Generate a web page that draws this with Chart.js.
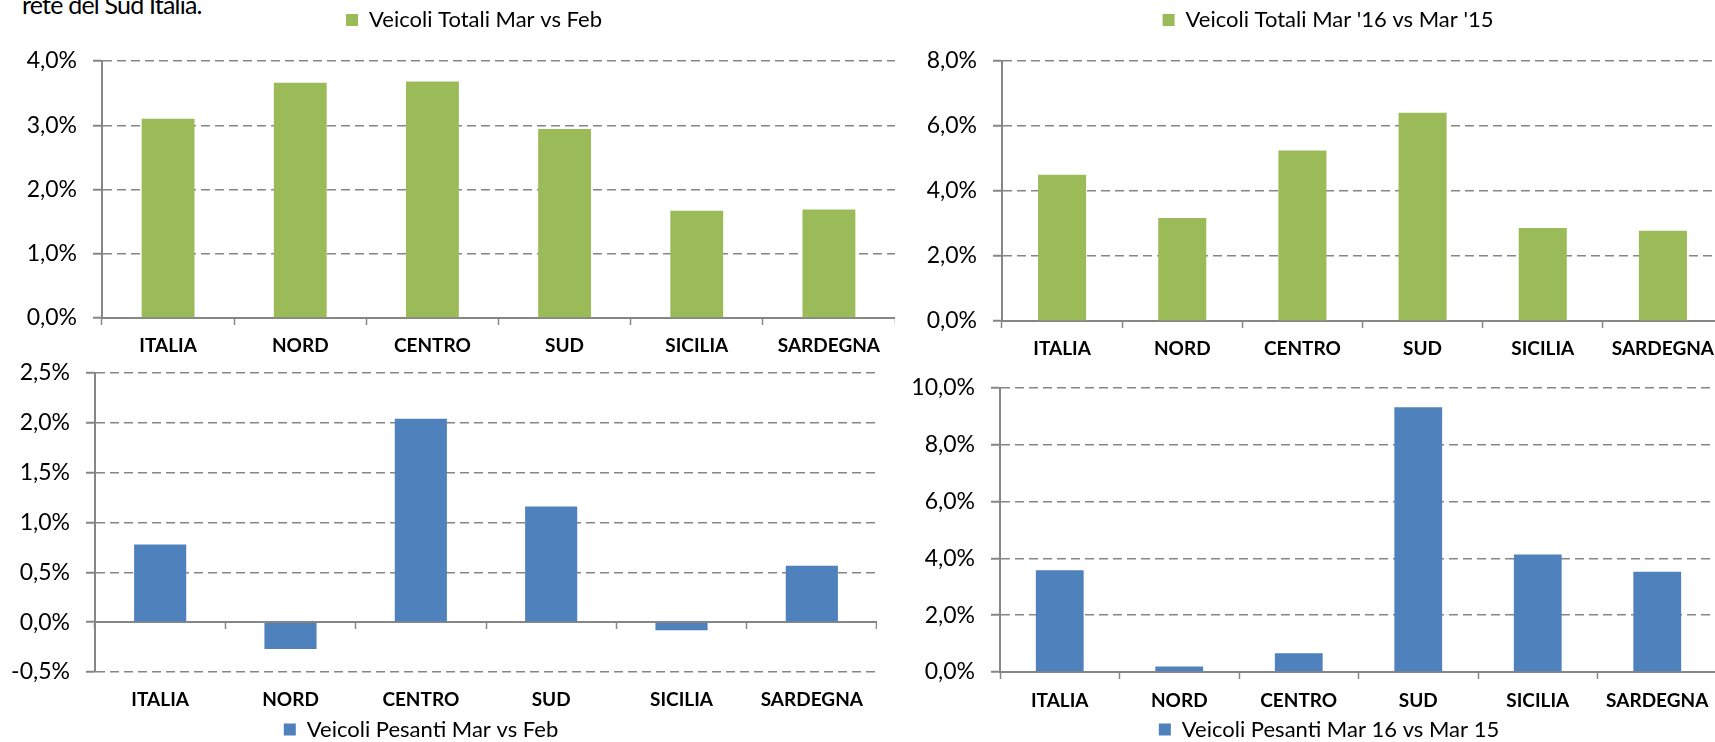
<!DOCTYPE html>
<html><head><meta charset="utf-8">
<script src="https://cdn.jsdelivr.net/npm/chart.js@4.4.1/dist/chart.umd.min.js"></script>
<style>
html,body{margin:0;padding:0;background:#fff;overflow:hidden;}
#page{position:relative;width:1715px;height:742px;overflow:hidden;background:#fff;}
canvas{position:absolute;}
#intro{position:absolute;left:22px;top:-8px;font:25px/25px Lato, sans-serif;letter-spacing:-0.8px;color:#000;white-space:nowrap;}
</style></head><body><div id="page">
<div id="intro">rete del Sud Italia.</div>
<canvas id="c1" width="895" height="368" style="left:0;top:0"></canvas>
<canvas id="c2" width="823" height="371" style="left:900px;top:0"></canvas>
<canvas id="c3" width="877" height="404" style="left:0;top:360px"></canvas>
<canvas id="c4" width="817" height="404" style="left:900px;top:360px"></canvas>
</div>
<script>
const categories = ['ITALIA', 'NORD', 'CENTRO', 'SUD', 'SICILIA', 'SARDEGNA'];

const totMarFeb     = [3.10, 3.66, 3.68, 2.94, 1.67, 1.69];
const totMar16vs15  = [4.50, 3.17, 5.25, 6.41, 2.86, 2.78];
const pesMarFeb     = [0.78, -0.27, 2.04, 1.16, -0.08, 0.565];
const pesMar16vs15  = [3.58, 0.19, 0.66, 9.32, 4.14, 3.53];

const ticksTotMarFeb    = [0, 1, 2, 3, 4];
const ticksTotMar16vs15 = [0, 2, 4, 6, 8];
const ticksPesMarFeb    = [-0.5, 0, 0.5, 1, 1.5, 2, 2.5];
const ticksPesMar16vs15 = [0, 2, 4, 6, 8, 10];

const labelTotMarFeb    = 'Veicoli Totali Mar vs Feb';
const labelTotMar16vs15 = "Veicoli Totali Mar '16 vs Mar '15";
const labelPesMarFeb    = 'Veicoli Pesanti Mar vs Feb';
const labelPesMar16vs15 = 'Veicoli Pesanti Mar 16 vs Mar 15';

const GREEN = '#9BBB59';
const BLUE = '#4F81BD';
const AXIS = '#868686';
const FONT = 'Lato';

Chart.defaults.font.family = FONT;
Chart.defaults.color = '#000';

const legendPlace = {
  id: 'legendPlace',
  beforeDraw(chart, args, opts) {
    const lg = chart.legend;
    if (!lg) return;
    if (opts.cx != null) { const dx = opts.cx - (lg.left + lg.right) / 2; lg.left += dx; lg.right += dx; }
    if (opts.cy != null) { const dy = opts.cy - (lg.top + lg.bottom) / 2; lg.top += dy; lg.bottom += dy; }
  }
};

function fmt(v) { return v.toFixed(1).replace('.', ',') + '%'; }

function make(id, cfg) {
  const tk = cfg.ticks;
  return new Chart(document.getElementById(id), {
    type: 'bar',
    data: {
      labels: categories,
      datasets: [{
        label: cfg.label,
        data: cfg.data,
        backgroundColor: cfg.color,
        borderColor: cfg.color,
        borderWidth: 0,
        barPercentage: 0.4,
        categoryPercentage: 1.0
      }]
    },
    plugins: [legendPlace],
    options: {
      responsive: false,
      animation: false,
      devicePixelRatio: 1,
      layout: { padding: { top: cfg.padTop, left: 0, right: 0, bottom: 0 } },
      plugins: {
        tooltip: { enabled: false },
        legend: {
          position: cfg.legendPos,
          labels: { font: { family: FONT, size: 22 }, color: '#000', boxWidth: 12, boxHeight: 12, padding: 10 }
        },
        legendPlace: { cx: cfg.cx, cy: cfg.cy }
      },
      scales: {
        x: {
          type: 'category',
          offset: true,
          grid: { display: false, drawTicks: false },
          border: { display: false },
          ticks: { font: { family: FONT, size: 19, weight: 'bold' }, color: '#000', padding: cfg.xPad, autoSkip: false, maxRotation: 0 },
          afterFit(s) { s.height = 50; s.paddingLeft = 0; s.paddingRight = 0; }
        },
        x2: {
          type: 'category',
          axis: 'x',
          position: { y: 0 },
          offset: true,
          grid: { offset: true, drawOnChartArea: false, drawTicks: true, tickLength: 6, tickColor: AXIS, tickWidth: 1.5 },
          border: { display: true, color: AXIS, width: 2 },
          ticks: { display: false },
          afterFit(s) { s.height = 0; s.paddingLeft = 0; s.paddingRight = 0; }
        },
        y: {
          min: tk[0],
          max: tk[tk.length - 1],
          afterBuildTicks(s) { s.ticks = tk.map(v => ({ value: v })); },
          grid: { color: AXIS, lineWidth: 1.5, drawTicks: true, tickLength: 9, tickColor: AXIS, tickWidth: 2, tickBorderDash: [] },
          border: { display: true, color: AXIS, width: 2, dash: [9, 5] },
          ticks: { font: { family: FONT, size: 23 }, color: '#000', padding: 16, callback: v => fmt(v) },
          afterFit(s) { s.width = cfg.yWidth; s.paddingTop = 0; s.paddingBottom = 0; }
        }
      }
    }
  });
}

make('c1', { label: labelTotMarFeb, data: totMarFeb, color: GREEN, ticks: ticksTotMarFeb,
  legendPos: 'top', padTop: 19, yWidth: 102, xPad: 16, cx: 474, cy: 20 });
make('c2', { label: labelTotMar16vs15, data: totMar16vs15, color: GREEN, ticks: ticksTotMar16vs15,
  legendPos: 'top', padTop: 19, yWidth: 102, xPad: 16, cx: 428, cy: 20 });
make('c3', { label: labelPesMarFeb, data: pesMarFeb, color: BLUE, ticks: ticksPesMarFeb,
  legendPos: 'bottom', padTop: 13, yWidth: 95, xPad: 16, cx: 421, cy: 369.5 });
make('c4', { label: labelPesMar16vs15, data: pesMar16vs15, color: BLUE, ticks: ticksPesMar16vs15,
  legendPos: 'bottom', padTop: 28, yWidth: 100, xPad: 17, cx: 429, cy: 369.5 });
</script>
</body></html>
